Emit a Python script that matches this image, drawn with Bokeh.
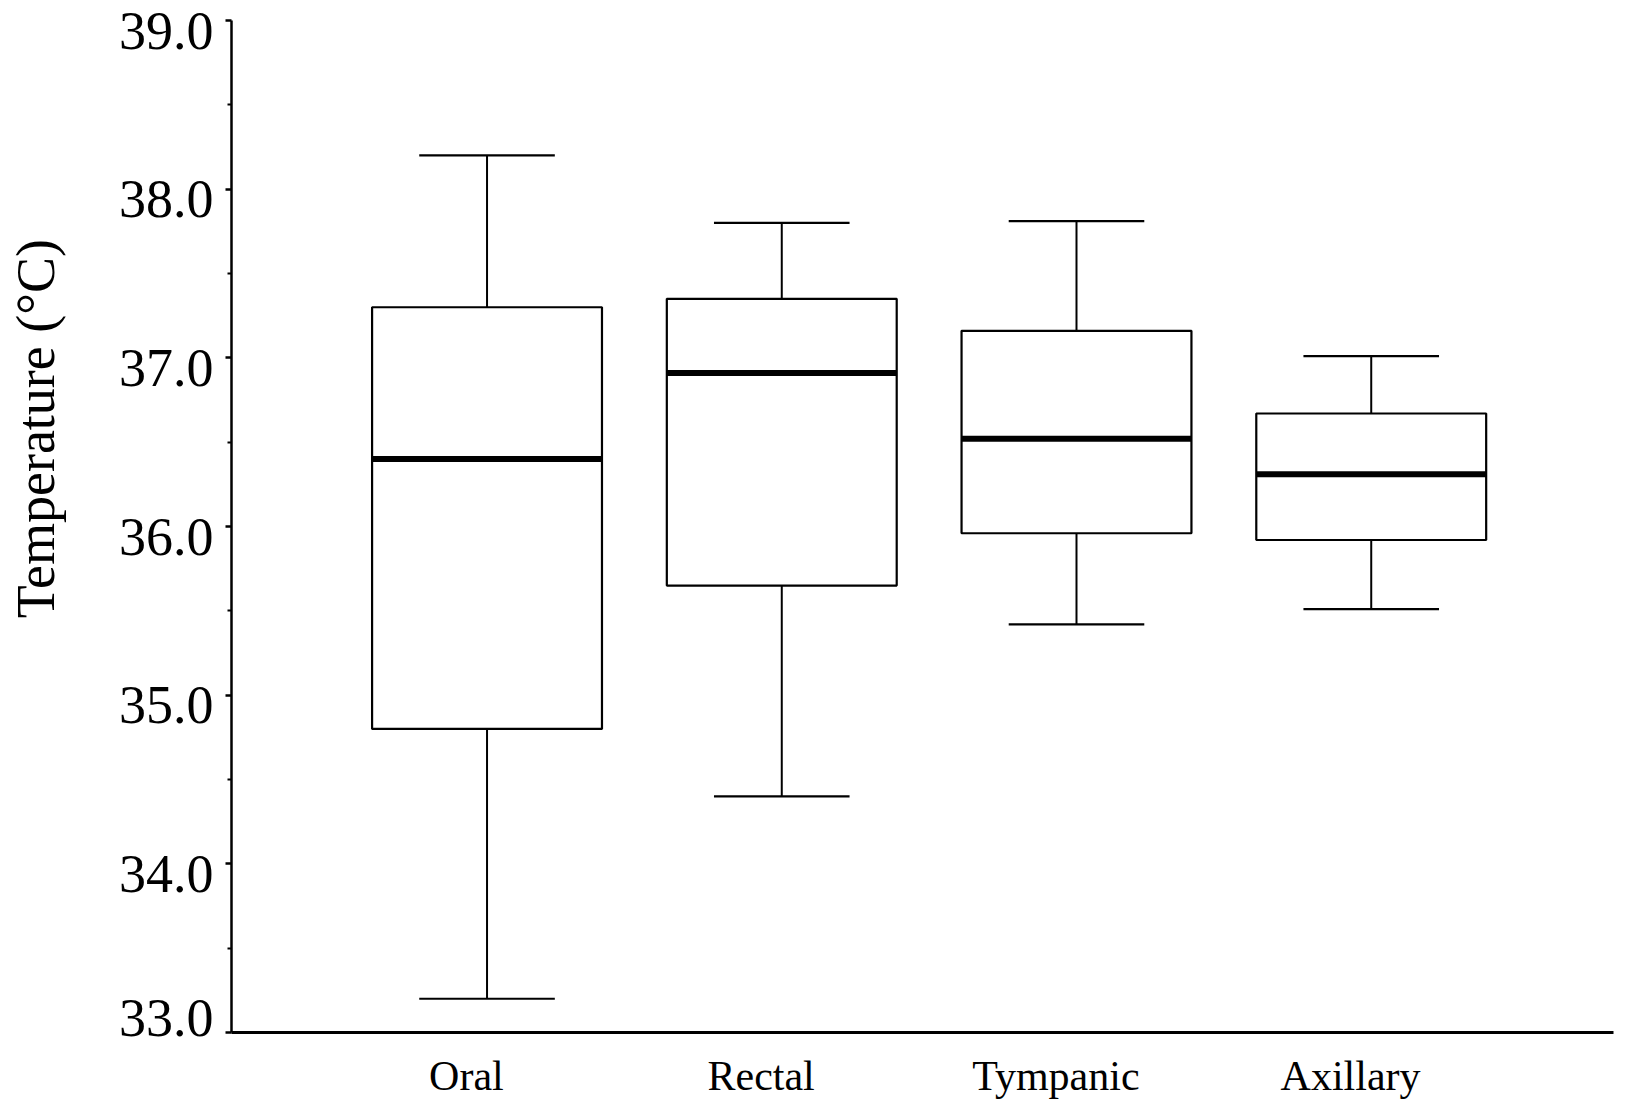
import math
from bokeh.plotting import figure
from bokeh.layouts import row
from bokeh.models import Range1d, FixedTicker, ColumnDataSource
from bokeh.core.properties import value
from bokeh.embed import file_html
from bokeh.resources import INLINE

# ---- data ----
categories = ["Oral", "Rectal", "Tympanic", "Axillary"]
lower_whisker = [33.2, 34.4, 35.42, 35.51]
q1 = [34.8, 35.65, 35.96, 35.92]
median = [36.4, 36.91, 36.52, 36.31]
q3 = [37.3, 37.35, 37.16, 36.67]
upper_whisker = [38.2, 37.8, 37.81, 37.01]
y_ticks = [33.0, 34.0, 35.0, 36.0, 37.0, 38.0, 39.0]
y_label = "Temperature (°C)"

# ---- layout / style constants ----
FONT = "Liberation Serif"
BOX_W = 0.78
CAP_W = 0.46
LABEL_SHIFT = -0.07
H = 1101
STRIP_W = 220          # left strip: y-axis title and tick labels
AXIS_X = 231           # page x of the y axis
TOP, BOTTOM = 20, 69   # frame borders
Y0, Y1 = y_ticks[0], y_ticks[-1]
PPD = (H - TOP - BOTTOM) / (Y1 - Y0)   # pixels per degree

xs = [i + 1 for i in range(len(categories))]
src = ColumnDataSource(dict(
    x=xs,
    lo=lower_whisker, q1=q1, med=median, q3=q3, hi=upper_whisker,
    bl=[x - BOX_W / 2 for x in xs], br=[x + BOX_W / 2 for x in xs],
    cl=[x - CAP_W / 2 for x in xs], cr=[x + CAP_W / 2 for x in xs],
))

# ---- left strip: same vertical scale as the main frame ----
t = figure(width=STRIP_W, height=H, output_backend="svg", toolbar_location=None,
           x_range=Range1d(0, STRIP_W),
           x_axis_location=None, y_axis_location=None,
           min_border=0, min_border_left=0, min_border_right=0,
           min_border_top=0, min_border_bottom=0)
if "frame_align" in t.properties():
    # strip frame over the full height, not aligned with the main frame
    t.frame_align = False
    t.y_range = Range1d(Y0 - BOTTOM / PPD, Y1 + TOP / PPD)
else:
    t.y_range = Range1d(Y0, Y1)
t.outline_line_color = None
t.xgrid.grid_line_color = None
t.ygrid.grid_line_color = None
t.text(x=[35], y=[36.58], text=[y_label], angle=math.pi / 2,
       text_align="center", text_baseline="middle",
       text_font=value(FONT), text_font_size="54px", text_color="black")
# tick labels: sitting a little below their ticks, the lowest one raised above the x axis
upper_ticks = y_ticks[1:]
t.text(x=[213] * len(upper_ticks), y=upper_ticks, text=[f"{v:.1f}" for v in upper_ticks],
       text_align="right", text_baseline="middle", y_offset=10,
       text_font=value(FONT), text_font_size="54px", text_color="black")
t.text(x=[213], y=y_ticks[:1], text=[f"{v:.1f}" for v in y_ticks[:1]],
       text_align="right", text_baseline="middle", y_offset=-15,
       text_font=value(FONT), text_font_size="54px", text_color="black")

# ---- main plot ----
p = figure(width=1627 - STRIP_W, height=H, output_backend="svg", toolbar_location=None,
           x_range=Range1d(0.133, 4.822), y_range=Range1d(Y0, Y1),
           min_border_left=AXIS_X - STRIP_W, min_border_right=14,
           min_border_top=TOP, min_border_bottom=BOTTOM)
p.outline_line_color = None
p.xgrid.grid_line_color = None
p.ygrid.grid_line_color = None
p.background_fill_color = "white"
p.border_fill_color = "white"

# whiskers
p.segment(x0="x", y0="q3", x1="x", y1="hi", source=src, line_color="black", line_width=2)
p.segment(x0="x", y0="lo", x1="x", y1="q1", source=src, line_color="black", line_width=2)
# caps
p.segment(x0="cl", y0="hi", x1="cr", y1="hi", source=src, line_color="black", line_width=2.2)
p.segment(x0="cl", y0="lo", x1="cr", y1="lo", source=src, line_color="black", line_width=2.2)
# boxes
p.vbar(x="x", width=BOX_W, bottom="q1", top="q3", source=src,
       fill_color="white", line_color="black", line_width=2.2)
# medians
p.segment(x0="bl", y0="med", x1="br", y1="med", source=src, line_color="black", line_width=6)

# y axis (its labels are drawn in the strip)
ya = p.yaxis[0]
ya.ticker = FixedTicker(ticks=y_ticks,
                        minor_ticks=[v + 0.5 for v in y_ticks[:-1]])
ya.major_label_overrides = {v: "" for v in y_ticks}
ya.major_label_standoff = 0
ya.axis_line_width = 2.5
ya.axis_line_color = "black"
ya.major_tick_line_width = 2.5
ya.major_tick_line_color = "black"
ya.major_tick_in = 0
ya.major_tick_out = 6
ya.minor_tick_line_width = 2
ya.minor_tick_line_color = "black"
ya.minor_tick_in = 0
ya.minor_tick_out = 4

# x axis
xa = p.xaxis[0]
ticks_x = [x + LABEL_SHIFT for x in xs]
xa.ticker = FixedTicker(ticks=ticks_x, minor_ticks=[])
xa.major_label_overrides = {v: c for v, c in zip(ticks_x, categories)}
xa.major_label_text_font = FONT
xa.major_label_text_font_size = "42px"
xa.major_label_text_color = "black"
xa.major_label_standoff = 20
xa.axis_line_width = 2.8
xa.axis_line_color = "black"
xa.major_tick_line_color = None
xa.major_tick_in = 0
xa.major_tick_out = 0
xa.minor_tick_line_color = None

layout = row(t, p, spacing=0)
open("out.html", "w").write(file_html(layout, INLINE))
